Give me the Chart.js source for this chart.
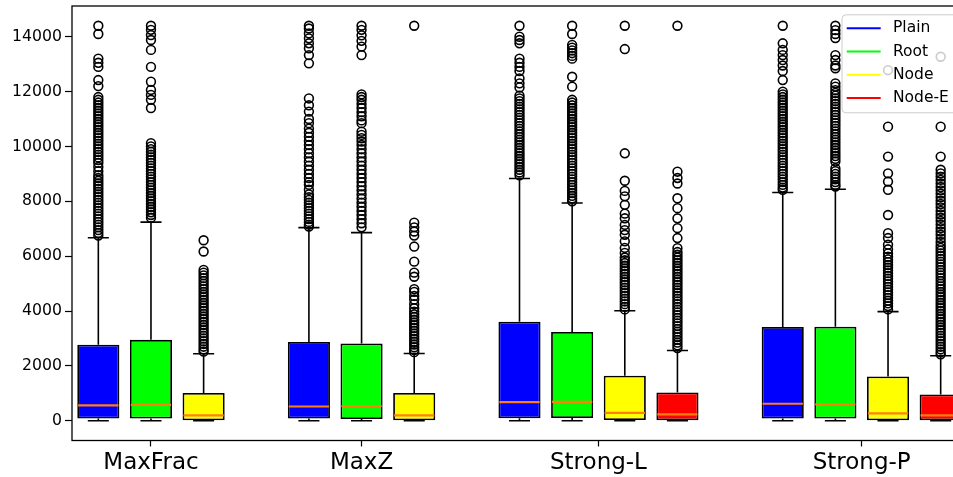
<!DOCTYPE html>
<html>
<head>
<meta charset="utf-8">
<script src="https://cdn.jsdelivr.net/npm/chart.js@4.4.1/dist/chart.umd.min.js"></script>
<style>
  html, body { margin: 0; padding: 0; background: #fff; overflow: hidden; }
  #caja { width: 953px; height: 477px; overflow: hidden; }
</style>
</head>
<body>
<div id="caja"><canvas id="grafico" width="1000" height="477"></canvas></div>
<script>
// grupos del eje x y métodos (una caja por método)
const grupos = ["MaxFrac", "MaxZ", "Strong-L", "Strong-P"];
const metodos = ["Plain", "Root", "Node", "Node-E"];
const inicioGrupo = [0, 4, 8, 13];
const ticksY = [0, 2000, 4000, 6000, 8000, 10000, 12000, 14000];

// estadísticas de cada caja: [método][grupo], null = no hay caja
const bigoteBajo = [[0, 0, 0, 0], [0, 0, 0, 0], [0, 0, 0, 0], [null, null, 0, 0]];
const q1 = [[80, 80, 90, 80], [80, 60, 100, 80], [20, 20, 25, 15], [null, null, 15, 15]];
const mediana = [[560, 520, 680, 620], [580, 535, 690, 600], [195, 195, 290, 270], [null, null, 230, 195]];
const q3 = [[2770, 2870, 3610, 3420], [2950, 2820, 3240, 3430], [1010, 1010, 1640, 1615], [null, null, 1030, 960]];
const bigoteAlto = [[6670, 7040, 8830, 8320], [7240, 6860, 7940, 8440], [2440, 2450, 4010, 3980], [null, null, 2560, 2370]];

// valores atípicos
const atipPlain = [
  [14400, 14100, 13200, 13050, 12900, 12420, 12200,
   11800, 11700, 11600, 11500, 11400, 11300, 11200, 11100, 11000, 10900, 10800, 10700, 10600, 10500,
   10400, 10300, 10200, 10100, 10000, 9900, 9800, 9700, 9600, 9500, 9400, 9250, 9100, 8950, 8850,
   8750, 8650, 8550, 8450, 8350, 8250, 8150, 8050, 7950, 7850, 7750, 7650, 7550, 7450, 7350, 7250,
   7150, 7050, 6950, 6850, 6750],
  [14400, 14300, 14120, 13940, 13760, 13580, 13330, 13030,
   11750, 11500, 11270, 11000, 10850, 10650, 10500, 10350, 10200, 10050, 9900, 9750, 9600, 9450,
   9300, 9150, 9000, 8850, 8700, 8600, 8420, 8250, 8150, 8050, 7950, 7850, 7750, 7650, 7550, 7450,
   7350, 7250, 7150, 7080],
  [14400, 14000, 13880, 13760, 13200, 13050, 12900, 12750, 12480, 12300, 12150,
   11850, 11750, 11650, 11550, 11450, 11350, 11250, 11150, 11050, 10950, 10850, 10750, 10650, 10550,
   10450, 10350, 10250, 10150, 10050, 9950, 9850, 9750, 9650, 9550, 9450, 9350, 9250, 9150, 9050, 8950],
  [14400, 13760, 13520, 13330, 13150, 12950, 12750, 12420,
   12000, 11900, 11800, 11700, 11600, 11500, 11400, 11300, 11200, 11100, 11000, 10900, 10800, 10700,
   10600, 10500, 10400, 10300, 10200, 10100, 10000, 9900, 9800, 9700, 9600, 9500, 9400, 9300, 9200,
   9100, 9000, 8900, 8800, 8700, 8600, 8500, 8420]
];
const atipRoot = [
  [14400, 14250, 14060, 13880, 13520, 12900, 12360, 12060, 11880, 11700, 11400,
   10120, 10000, 9900, 9800, 9700, 9600, 9500, 9400, 9300, 9200, 9100, 9000, 8900, 8800, 8700,
   8600, 8500, 8400, 8300, 8200, 8100, 8000, 7900, 7800, 7700, 7600, 7500, 7400],
  [14400, 14250, 14050, 13850, 13640, 13330,
   11900, 11800, 11700, 11550, 11400, 11250, 11100, 10950, 10850,
   10540, 10420, 10300, 10180, 10050, 9900, 9750, 9600, 9450, 9300, 9150, 9000, 8850, 8700, 8550,
   8400, 8250, 8100, 7950, 7800, 7650, 7500, 7350, 7200, 7050],
  [14400, 14100, 13700, 13600, 13500, 13400, 13300, 13200, 12540, 12180,
   11700, 11600, 11500, 11400, 11300, 11200, 11100, 11000, 10900, 10800, 10700, 10600, 10500, 10400,
   10300, 10200, 10100, 10000, 9900, 9800, 9700, 9600, 9500, 9400, 9300, 9200, 9100, 9000, 8900,
   8800, 8700, 8600, 8500, 8400, 8300, 8200, 8100, 8000],
  [14400, 14240, 14100, 13950, 13330, 13150, 12950, 12850,
   12300, 12180, 12050, 11950, 11850, 11750, 11650, 11550, 11450, 11350, 11250, 11150, 11050, 10950,
   10850, 10750, 10650, 10550, 10450, 10350, 10250, 10150, 10050, 9950, 9850, 9750, 9650, 9550, 9450,
   9200, 9100, 9000, 8900, 8800, 8700, 8600, 8540]
];
const atipNode = [
  [6580, 6170, 5500, 5400, 5300, 5200, 5100, 5000, 4900, 4800, 4700, 4600, 4500, 4400, 4300, 4200,
   4100, 4000, 3900, 3800, 3700, 3600, 3500, 3400, 3300, 3200, 3100, 3000, 2900, 2800, 2700, 2600, 2520],
  [14400, 7220, 7050, 6900, 6750, 6350, 5800, 5400, 5250, 4800, 4700, 4550, 4420, 4250, 4100, 3980,
   3880, 3780, 3680, 3580, 3480, 3380, 3280, 3180, 3080, 2980, 2880, 2780, 2680, 2580, 2500],
  [14400, 13550, 9750, 8750, 8380, 8180, 7870, 7550, 7380, 7140, 6950, 6780, 6540, 6300, 6120, 5950,
   5850, 5750, 5650, 5550, 5450, 5350, 5250, 5150, 5050, 4950, 4850, 4750, 4650, 4550, 4450, 4350,
   4250, 4150, 4060],
  [12780, 10720, 9630, 9020, 8720, 8420, 7500, 6840, 6660, 6420, 6250, 6100, 5980, 5880, 5780, 5680,
   5580, 5480, 5380, 5280, 5180, 5080, 4980, 4880, 4780, 4680, 4580, 4480, 4380, 4280, 4180, 4060]
];
const atipNodeE = [
  [],
  [],
  [14400, 9080, 8850, 8650, 8110, 7750, 7380, 7020, 6660, 6290, 6150, 6050, 5950, 5850, 5750, 5650,
   5550, 5450, 5350, 5250, 5150, 5050, 4950, 4850, 4750, 4650, 4550, 4450, 4350, 4250, 4150, 4050,
   3950, 3850, 3750, 3650, 3550, 3450, 3350, 3250, 3150, 3050, 2950, 2850, 2750, 2650],
  [13270, 10720, 9630, 9150, 9020, 8900, 8780, 8650, 8520, 8400, 8280, 8150, 8020, 7900, 7780, 7650,
   7520, 7400, 7280, 7150, 7020, 6900, 6780, 6650, 6520, 6400, 6300, 6200, 6100, 6000, 5900, 5800,
   5700, 5600, 5500, 5400, 5300, 5200, 5100, 5000, 4900, 4800, 4700, 4600, 4500, 4400, 4300, 4200,
   4100, 4000, 3900, 3800, 3700, 3600, 3500, 3400, 3300, 3200, 3100, 3000, 2900, 2800, 2700, 2600,
   2500, 2420]
];
const atipicos = [atipPlain, atipRoot, atipNode, atipNodeE];

const colores = ["#0000ff", "#00ff00", "#ffff00", "#ff0000"];
const fuente = "DejaVu Sans";

// etiqueta del grupo en el centro de sus cajas
const posEtiquetas = grupos.map((g, j) => {
  const n = q1.filter(fila => fila[j] != null).length;
  return inicioGrupo[j] + (n - 1) / 2;
});

const cajas = metodos.map((m, i) => ({
  type: "bar",
  label: m,
  data: grupos
    .map((g, j) => q1[i][j] == null ? null : {
      x: inicioGrupo[j] + i,
      y: [q1[i][j], q3[i][j]],
      lo: bigoteBajo[i][j], med: mediana[i][j], hi: bigoteAlto[i][j]
    })
    .filter(d => d),
  backgroundColor: colores[i],
  borderColor: "#000",
  borderWidth: 1.8,
  borderSkipped: false,
  grouped: false,
  barPercentage: 0.8,
  categoryPercentage: 1,
  order: 2
}));

const puntos = metodos.map((m, i) => ({
  type: "scatter",
  label: m + " atípicos",
  data: atipicos[i].flatMap((lista, j) => lista.map(v => ({ x: inicioGrupo[j] + i, y: v }))),
  pointRadius: 4.4,
  pointBorderWidth: 1.6,
  pointBorderColor: "#000",
  pointBackgroundColor: "rgba(0,0,0,0)",
  showLine: false,
  order: 1
}));

// bigotes, topes y mediana
const bigotes = {
  id: "bigotes",
  afterDatasetsDraw(chart) {
    const ctx = chart.ctx;
    const ey = chart.scales.y;
    ctx.save();
    chart.data.datasets.forEach((ds, i) => {
      if (ds.type !== "bar") return;
      chart.getDatasetMeta(i).data.forEach((barra, k) => {
        const d = ds.data[k];
        const cx = barra.x, w = barra.width;
        ctx.strokeStyle = "#000";
        ctx.lineWidth = 1.6;
        ctx.beginPath();
        ctx.moveTo(cx, ey.getPixelForValue(d.y[1]));
        ctx.lineTo(cx, ey.getPixelForValue(d.hi));
        ctx.moveTo(cx, ey.getPixelForValue(d.y[0]));
        ctx.lineTo(cx, ey.getPixelForValue(d.lo));
        ctx.moveTo(cx - w / 4, ey.getPixelForValue(d.hi));
        ctx.lineTo(cx + w / 4, ey.getPixelForValue(d.hi));
        ctx.moveTo(cx - w / 4, ey.getPixelForValue(d.lo));
        ctx.lineTo(cx + w / 4, ey.getPixelForValue(d.lo));
        ctx.stroke();
        ctx.strokeStyle = "#ff7f0e";
        ctx.lineWidth = 2.2;
        ctx.beginPath();
        ctx.moveTo(cx - w / 2 + 0.9, ey.getPixelForValue(d.med));
        ctx.lineTo(cx + w / 2 - 0.9, ey.getPixelForValue(d.med));
        ctx.stroke();
      });
    });
    ctx.restore();
  }
};

// marco del área y leyenda arriba a la derecha
const leyenda = {
  id: "leyenda",
  afterDraw(chart) {
    const ctx = chart.ctx;
    const a = chart.chartArea;
    ctx.save();
    ctx.strokeStyle = "#000";
    ctx.lineWidth = 1.3;
    ctx.strokeRect(a.left, a.top, a.right - a.left, a.bottom - a.top);

    const x0 = a.right - 125, y0 = a.top + 8.8;
    ctx.beginPath();
    ctx.roundRect(x0, y0, 125, 98, 4);
    ctx.fillStyle = "rgba(255,255,255,0.8)";
    ctx.fill();
    ctx.strokeStyle = "#cccccc";
    ctx.lineWidth = 1;
    ctx.stroke();

    ctx.font = "15.5px '" + fuente + "'";
    ctx.textBaseline = "middle";
    metodos.forEach((m, i) => {
      const y = y0 + 13.4 + i * 23.3;
      ctx.strokeStyle = colores[i];
      ctx.lineWidth = 2;
      ctx.beginPath();
      ctx.moveTo(x0 + 4.7, y);
      ctx.lineTo(x0 + 38.7, y);
      ctx.stroke();
      ctx.fillStyle = "#000";
      ctx.fillText(m, x0 + 51, y);
    });
    ctx.restore();
  }
};

Chart.defaults.font.family = fuente;

new Chart(document.getElementById("grafico"), {
  type: "bar",
  data: { datasets: [...puntos, ...cajas] },
  options: {
    responsive: false,
    animation: false,
    layout: { padding: { left: 0, top: 5.5, right: 33, bottom: 0 } },
    plugins: { legend: { display: false }, tooltip: { enabled: false } },
    scales: {
      x: {
        type: "linear",
        min: -0.5,
        max: 16.5,
        offset: false,
        afterBuildTicks: (s) => { s.ticks = posEtiquetas.map(v => ({ value: v })); },
        afterFit: (s) => { s.height = 36.5; s.paddingLeft = 0; s.paddingRight = 0; },
        ticks: {
          callback: (v, i) => grupos[i],
          font: { size: 23 },
          color: "#000",
          autoSkip: false,
          maxRotation: 0,
          padding: 3
        },
        grid: { offset: false, drawOnChartArea: false, tickLength: 6, tickColor: "#000", tickWidth: 1.2 },
        border: { display: false }
      },
      y: {
        type: "linear",
        min: -720,
        max: 15120,
        afterBuildTicks: (s) => { s.ticks = ticksY.map(v => ({ value: v })); },
        afterFit: (s) => { s.width = 72; s.paddingTop = 0; s.paddingBottom = 0; },
        ticks: {
          callback: (v) => String(v),
          font: { size: 15.7 },
          color: "#000",
          padding: 3
        },
        grid: { drawOnChartArea: false, tickLength: 7, tickColor: "#000", tickWidth: 1.2 },
        border: { display: false }
      }
    }
  },
  plugins: [bigotes, leyenda]
});
</script>
</body>
</html>
